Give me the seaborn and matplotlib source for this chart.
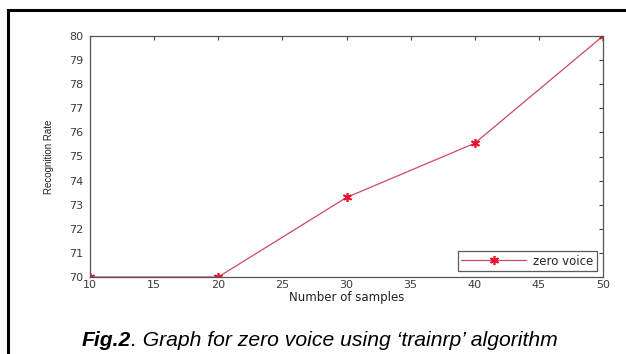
import matplotlib
matplotlib.use("Agg")
import matplotlib.pyplot as plt
import seaborn as sns
import pandas as pd
from matplotlib.patches import Rectangle

samples = [10, 20, 30, 40, 50]
recognition_rate = [70.0, 70.0, 73.3, 75.55, 80.0]
series_name = "zero voice"
x_ticks = [10, 15, 20, 25, 30, 35, 40, 45, 50]
y_ticks = [70, 71, 72, 73, 74, 75, 76, 77, 78, 79, 80]

sns.set_style("white")
plt.rcParams["font.family"] = ["DejaVu Sans"]

df = pd.DataFrame({"samples": samples, "rate": recognition_rate, "series": series_name})

fig = plt.figure(figsize=(6.26, 3.54), dpi=100)
ax = fig.add_axes([90 / 626, 1 - 277 / 354, 513 / 626, 241 / 354])

# MATLAB-style asterisk marker
asterisk = (6, 2, 0)
sns.lineplot(data=df, x="samples", y="rate", hue="series", palette=["#cc4a66"],
             marker=asterisk, markersize=6.5, markeredgecolor="#e8102a",
             markerfacecolor="#e8102a", markeredgewidth=1.2,
             linewidth=0.9, ax=ax)

ax.set_xlim(10, 50)
ax.set_ylim(70, 80)
ax.set_xticks(x_ticks)
ax.set_yticks(y_ticks)
ax.tick_params(direction="in", length=3, width=0.8, colors="#444444",
               labelsize=8, labelcolor="#3a3a3a", top=True, right=True)
ax.tick_params(axis="y", pad=5)
ax.tick_params(axis="x", pad=2)
for s in ax.spines.values():
    s.set_color("#555555")
    s.set_linewidth(0.9)

ax.set_xlabel("Number of samples", fontsize=8.5, color="#222222", labelpad=0)
ax.xaxis.set_label_coords(0.5, -0.06)
ax.set_ylabel("Recognition Rate", fontsize=7, color="#222222", fontstretch="condensed",
              family="Liberation Sans")
ax.yaxis.set_label_coords(-36 / 513, 0.5)

leg = ax.legend(loc="lower right", fontsize=8.5, frameon=True, fancybox=False,
                borderaxespad=0.5, handlelength=5.5, borderpad=0.3, handletextpad=0.6)
leg.get_frame().set_edgecolor("#333333")
leg.get_frame().set_linewidth(0.9)

# outer frame around figure and caption
fig.patches.append(Rectangle((8 / 626, -0.1), 1.2, 1 - 10 / 354 + 0.1, transform=fig.transFigure,
                             fill=False, edgecolor="black", linewidth=2.2))

cap_font = ["Liberation Sans", "DejaVu Sans"]
t1 = fig.text(82 / 626, 1 - 341 / 354, "Fig.2", fontsize=15.2, fontweight="bold",
              fontstyle="italic", va="center", ha="left", family=cap_font, color="black")
fig.canvas.draw()
bb = t1.get_window_extent()
fig.text(bb.x1 / fig.bbox.width, 1 - 341 / 354,
         ". Graph for zero voice using \u2018trainrp\u2019 algorithm",
         fontsize=15.2, fontstyle="italic", va="center", ha="left", family=cap_font,
         color="black")

fig.savefig("out.png", dpi=100)
